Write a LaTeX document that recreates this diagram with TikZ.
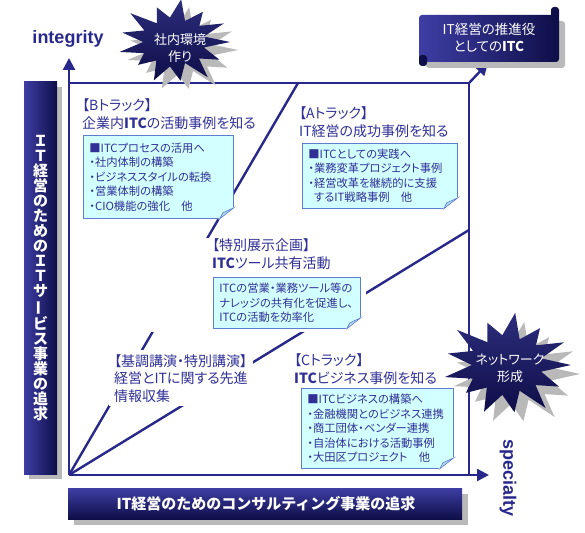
\documentclass[tikz,border=0pt]{standalone}
\usepackage{fontspec}
\setmainfont{Noto Sans CJK JP}[RawFeature={+palt}]
\newfontfamily\barfont{Noto Sans CJK JP}
\newfontfamily\axisfont{Liberation Sans}
\usetikzlibrary{arrows.meta, calc}

\definecolor{axisblue}{RGB}{40,40,140}
\definecolor{labelblue}{RGB}{48,48,150}
\definecolor{barlight}{RGB}{62,62,165}
\definecolor{bardark}{RGB}{14,14,72}
\definecolor{burstlight}{RGB}{45,45,125}
\definecolor{notefill}{RGB}{210,255,255}
\definecolor{noteline}{RGB}{95,125,205}
\definecolor{shadowgray}{RGB}{185,185,185}

\tikzset{
  axisline/.style={draw=axisblue, line width=2.4pt},
  axisarrow/.style={axisline, -{Triangle[length=12pt,width=12pt]}},
  tracklabel/.style={anchor=north west, align=left, text=labelblue, font=\fontsize{14}{18.5}\selectfont, inner sep=2pt},
  notebox/.style={anchor=north west, align=left, text=labelblue, fill=notefill, draw=noteline, line width=0.8pt, font=\fontsize{11.3}{14.5}\selectfont, inner xsep=6pt, inner ysep=3pt},
  bartext/.style={text=white, font=\barfont\fontsize{15}{15}\selectfont\bfseries, align=center},
  bursttext/.style={text=white, font=\fontsize{13}{17}\selectfont, align=center}
}

\newcommand{\dogear}[1]{ % #1: name of the note node
  \filldraw[fill=white, draw=white, line width=1.2pt] ($(#1.south east)+(-14,0)$) -- (#1.south east) -- ($(#1.south east)+(0,-11)$) -- cycle;
  \filldraw[fill=notefill!70!noteline, draw=noteline, line width=0.6pt] ($(#1.south east)+(-14,0)$) -- ($(#1.south east)+(0,-11)$) -- ($(#1.south east)+(-11,-6)$) -- cycle; % folded corner
}

\newcommand{\burst}[5]{ % #1: x, #2: y, #3: x radius, #4: y radius, #5: fill style
  \begin{scope}[shift={(#1,#2)}, xscale=#3, yscale=#4]
    \path[#5] (0:1) \foreach \a/\r in {14/0.55,28/0.92,42/0.6,55/1.05,69/0.55,83/0.95,97/0.6,111/1.0,125/0.55,139/0.85,153/0.6,166/1.0,180/0.55,194/0.95,208/0.6,222/1.05,236/0.55,250/0.9,263/0.6,277/1.05,291/0.55,305/0.9,319/0.6,333/1.0,346/0.55} { -- (\a:\r) } -- cycle;
  \end{scope}
}

\begin{document}
\begin{tikzpicture}[x=1pt, y=-1pt]
\useasboundingbox (0,0) rectangle (585,532);

% Corners of the frame
\coordinate (O) at (69,475);
\coordinate (top) at (69,58);
\coordinate (right) at (489,475);
\coordinate (TL) at (69,83);
\coordinate (TR) at (469,83);
\coordinate (BR) at (469,475);
\coordinate (diagA) at (298,83);
\coordinate (diagC) at (469,230);
\coordinate (itcend) at (488,63);

% Frame and the two fan lines
\draw[axisline] (TL) -- (TR) -- (BR);
\draw[axisline] (O) -- (diagA);
\draw[axisline] (O) -- (diagC);

% Axes
\draw[axisarrow] (O) -- (top);
\draw[axisarrow] (O) -- (right);
\draw[axisarrow] (TR) -- (itcend);
\node[text=axisblue, font=\axisfont\fontsize{18}{18}\selectfont\bfseries] (integrity) at (68,39) {integrity};
\node[text=axisblue, font=\axisfont\fontsize{18}{18}\selectfont\bfseries, rotate=-90] (specialty) at (508,478) {specialty};

% Left bar (vertical text)
\fill[shadowgray] (29,87) rectangle (62,479);
\shade[left color=barlight, right color=bardark] (24,82) rectangle (57,474);
\node[bartext] (leftbar) at (40.5,278) {Ｉ\\Ｔ\\経\\営\\の\\た\\め\\の\\Ｉ\\Ｔ\\サ\\\rotatebox[origin=c]{90}{ー}\\ビ\\ス\\事\\業\\の\\追\\求};

% Bottom bar
\fill[shadowgray] (74,494) rectangle (468,525);
\shade[top color=barlight, bottom color=bardark] (68,488) rectangle (462,519);
\node[bartext] (bottombar) at (266,503.5) {IT経営のためのコンサルティング事業の追求};

% Top right box, set off by a shadow
\fill[shadowgray, rounded corners=3] (426,21) rectangle (565,68);
\shade[left color=barlight, right color=bardark, rounded corners=3] (419,15) rectangle (559,62);
\fill[bardark, rounded corners=3] (551,7) rectangle (559,20);
\fill[bardark, rounded corners=3] (419,55) rectangle (427,66);
\node[bursttext, font=\fontsize{13.5}{17}\selectfont] (itc) at (489,38) {IT経営の推進役\\としての\textbf{ITC}};

% White back behind the centre block
\fill[white] (145,238) rectangle (366,332);

% Track labels
\node[tracklabel] (trackB) at (80,96) {【Bトラック】\\企業内\textbf{ITC}の活動事例を知る};
\node[tracklabel] (trackA) at (297,104) {【Aトラック】\\IT経営の成功事例を知る};
\node[tracklabel] (special) at (210,236) {【特別展示企画】\\\textbf{ITC}ツール共有活動};
\node[tracklabel, fill=white, inner xsep=5pt, inner ysep=4pt, font=\fontsize{14}{17.5}\selectfont] (keynote) at (109,350) {【基調講演・特別講演】\\経営とITに関する先進\\情報収集};
\node[tracklabel] (trackC) at (292,351) {【Cトラック】\\\textbf{ITC}ビジネス事例を知る};

% Notes
\node[notebox, text width=138, minimum height=83] (noteB) at (83,135) {■ITCプロセスの活用へ\\・社内体制の構築\\・ビジネススタイルの転換\\・営業体制の構築\\・CIO機能の強化\quad 他};
\dogear{noteB}
\node[notebox, text width=143, minimum height=65] (noteA) at (302,143) {■ITCとしての実践へ\\・業務変革プロジェクト事例\\・経営改革を継続的に支援\\\hphantom{・}するIT戦略事例\quad 他};
\dogear{noteA}
\node[notebox, text width=135, minimum height=51] (noteT) at (213,277) {ITCの営業・業務ツール等の\\ナレッジの共有化を促進し、\\ITCの活動を効率化};
\dogear{noteT}
\node[notebox, text width=140, minimum height=80] (noteC) at (301,388) {■ITCビジネスの構築へ\\・金融機関とのビジネス連携\\・商工団体・ベンダー連携\\・自治体における活動事例\\・大田区プロジェクト\quad 他};
\dogear{noteC}

% Starbursts with their shadows
\burst{182}{50}{56}{41}{fill=shadowgray}
\burst{174}{42}{56}{41}{top color=burstlight, bottom color=bardark}
\node[bursttext] (burstTop) at (180,48) {社内環境\\作り};
\burst{516}{374}{64}{50}{fill=shadowgray}
\burst{507}{365}{64}{50}{top color=burstlight, bottom color=bardark}
\node[bursttext] (burstNet) at (510,368) {ネットワーク\\形成};

\end{tikzpicture}
\end{document}
